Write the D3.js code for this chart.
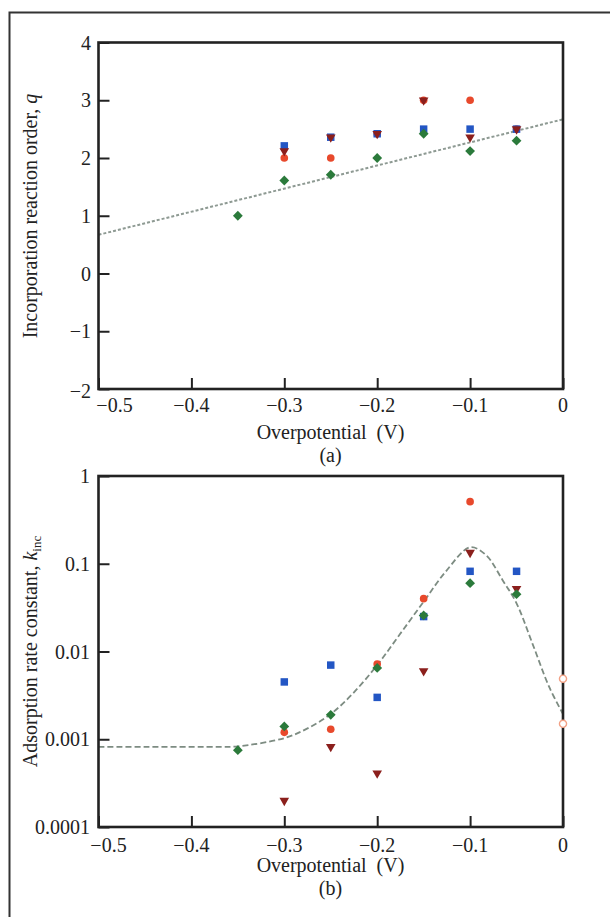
<!DOCTYPE html>
<html>
<head>
<meta charset="utf-8">
<script src="https://cdn.jsdelivr.net/npm/d3@7"></script>
<style>
  html, body { margin: 0; padding: 0; background: #fff; }
  svg { display: block; }
  text { font-family: "Liberation Serif", "DejaVu Serif", serif; fill: #222; }
</style>
</head>
<body>
<svg id="chart" width="610" height="917"></svg>
<script>
// overpotential values where points were measured (V)
const potentials = [-0.35, -0.3, -0.25, -0.2, -0.15, -0.1, -0.05];

// panel (a): incorporation reaction order q
const qRed   = [null, 2.0, 2.0, 2.42, 3.0, 3.0, 2.5];
const qBlue  = [null, 2.21, 2.36, 2.42, 2.5, 2.5, 2.5];
const qBrown = [null, 2.12, 2.36, 2.42, 3.0, 2.36, 2.5];
const qGreen = [1.0, 1.61, 1.71, 2.0, 2.42, 2.12, 2.3];
const qFitX  = [-0.5, 0];
const qFitY  = [0.67, 2.67];

// panel (b): adsorption rate constant k_inc
const kRed   = [null, 0.0012, 0.0013, 0.0072, 0.040, 0.51, null];
const kBlue  = [null, 0.0045, 0.0070, 0.0030, 0.025, 0.082, 0.082];
const kBrown = [null, 0.0002, 0.00082, 0.00041, 0.006, 0.134, 0.052];
const kGreen = [0.00075, 0.0014, 0.0019, 0.0065, 0.0258, 0.060, 0.045];
const kOpenX = [0, 0];
const kOpenY = [0.0049, 0.0015];
const kFitX  = [-0.5, -0.45, -0.4, -0.369, -0.35, -0.3, -0.275, -0.25, -0.226, -0.2, -0.176, -0.15, -0.126, -0.1, -0.083, -0.065, -0.05, -0.033, -0.015, 0];
const kFitY  = [0.00082, 0.00082, 0.00082, 0.00082, 0.00083, 0.00103, 0.00133, 0.00194, 0.00334, 0.0070, 0.0155, 0.037, 0.082, 0.154, 0.126, 0.065, 0.0354, 0.0124, 0.00397, 0.00194];

// axis ticks
const xMajor = [-0.5, -0.4, -0.3, -0.2, -0.1, 0];
const qTicks = [-2, -1, 0, 1, 2, 3, 4];
const kTicks = [0.0001, 0.001, 0.01, 0.1, 1];
const kTickLabels = ["0.0001", "0.001", "0.01", "0.1", "1"];

const svg = d3.select("#chart");
const FS = "20px";

const colors = { red: "#e8492c", blue: "#2356c4", brown: "#8b1f1c", green: "#2b7a3b", open: "#f2a185" };

// outer frame (top and left)
svg.append("path")
    .attr("d", "M9.5,917 L9.5,12.5 L610,12.5")
    .attr("fill", "none")
    .attr("stroke", "#333")
    .attr("stroke-width", 2);

const x = d3.scaleLinear().domain([-0.5, 0]).range([98.5, 563]);
const yA = d3.scaleLinear().domain([-2, 4]).range([389, 42.5]);
const yB = d3.scaleLog().domain([1e-4, 1]).range([827, 476]);

const fmtX = v => v === 0 ? "0" : d3.format(".1f")(v);

function drawFrame(bottom, top) {
    svg.append("rect")
        .attr("x", x.range()[0]).attr("y", top)
        .attr("width", x.range()[1] - x.range()[0])
        .attr("height", bottom - top)
        .attr("fill", "none")
        .attr("stroke", "#222")
        .attr("stroke-width", 2.6);
}

function drawXAxis(bottom, labelY, minusShift) {
    const g = svg.append("g").attr("transform", `translate(0,${bottom})`);
    // minor ticks every 0.02
    g.call(d3.axisBottom(x).tickValues(d3.range(-0.48, 0, 0.02)).tickSize(-5.5).tickFormat(""));
    g.call(d3.axisBottom(x).tickValues(xMajor).tickSize(-11).tickFormat(""));
    g.select(".domain").remove();
    g.selectAll("line").attr("stroke", "#222").attr("stroke-width", 2);
    svg.append("g").selectAll("text")
        .data(xMajor)
        .join("text")
        .attr("x", d => x(d) + (d === -0.5 ? minusShift : 0))
        .attr("y", labelY)
        .attr("text-anchor", "middle")
        .style("font-size", FS)
        .text(fmtX);
}

function drawMarks(y, series) {
    series.forEach(s => {
        const pts = s.vals.map((v, i) => [s.xs ? s.xs[i] : potentials[i], v]).filter(p => p[1] != null);
        const sel = svg.append("g").selectAll("path")
            .data(pts)
            .join("path")
            .attr("transform", d => `translate(${x(d[0])},${y(d[1])}) rotate(${s.rot || 0})`)
            .attr("d", d3.symbol().type(s.type).size(s.size));
        if (s.open) {
            sel.attr("fill", "#fff").attr("stroke", s.color).attr("stroke-width", 1.4);
        } else {
            sel.attr("fill", s.color);
        }
    });
}

const markSet = (r, b, br, gr) => [
    { vals: r, type: d3.symbolCircle, size: 46, color: colors.red },
    { vals: b, type: d3.symbolSquare, size: 56, color: colors.blue },
    { vals: br, type: d3.symbolTriangle, size: 40, color: colors.brown, rot: 180 },
    { vals: gr, type: d3.symbolSquare, size: 48, color: colors.green, rot: 45 }
];

// ---------- panel (a) ----------
{
    const g = svg.append("g").attr("transform", "translate(98.5,0)");
    g.call(d3.axisLeft(yA).tickValues(d3.range(-2, 4.01, 0.2)).tickSize(-6).tickFormat(""));
    g.call(d3.axisLeft(yA).tickValues(qTicks).tickSize(-11).tickFormat(""));
    g.select(".domain").remove();
    g.selectAll("line").attr("stroke", "#222").attr("stroke-width", 2);
    svg.append("g").selectAll("text")
        .data(qTicks)
        .join("text")
        .attr("x", 91)
        .attr("y", d => yA(d) + (d === -2 ? 9 : 7))
        .attr("text-anchor", "end")
        .style("font-size", FS)
        .text(d3.format("d"));

    drawXAxis(389, 412, 16);

    const fit = qFitX.map((v, i) => [v, qFitY[i]]);
    svg.append("path")
        .datum(fit)
        .attr("d", d3.line().x(d => x(d[0])).y(d => yA(d[1])))
        .attr("fill", "none")
        .attr("stroke", "#8e9a93")
        .attr("stroke-width", 2)
        .attr("stroke-dasharray", "3,2");

    drawMarks(yA, markSet(qRed, qBlue, qBrown, qGreen));
    drawFrame(389, 42.5);

    svg.append("text")
        .attr("transform", "translate(37,216) rotate(-90)")
        .attr("text-anchor", "middle")
        .style("font-size", FS)
        .text("Incorporation reaction order, ")
        .append("tspan").style("font-style", "italic").text("q");

    svg.append("text").attr("x", 330.5).attr("y", 439).attr("text-anchor", "middle")
        .style("font-size", FS).style("white-space", "pre").text("Overpotential  (V)");
    svg.append("text").attr("x", 330.5).attr("y", 462).attr("text-anchor", "middle")
        .style("font-size", FS).text("(a)");
}

// ---------- panel (b) ----------
{
    const minor = [];
    for (let e = -4; e < 0; e++) for (let m = 2; m <= 9; m++) minor.push(m * Math.pow(10, e));
    const g = svg.append("g").attr("transform", "translate(98.5,0)");
    g.call(d3.axisLeft(yB).tickValues(minor).tickSize(-6).tickFormat(""));
    g.call(d3.axisLeft(yB).tickValues(kTicks).tickSize(-11).tickFormat(""));
    g.select(".domain").remove();
    g.selectAll("line").attr("stroke", "#222").attr("stroke-width", 2);
    svg.append("g").selectAll("text")
        .data(kTicks)
        .join("text")
        .attr("x", 90)
        .attr("y", d => yB(d) + 7)
        .attr("text-anchor", "end")
        .style("font-size", FS)
        .text((d, i) => kTickLabels[i]);

    drawXAxis(827, 852, 10);

    const fit = kFitX.map((v, i) => [v, kFitY[i]]);
    svg.append("path")
        .datum(fit)
        .attr("d", d3.line().x(d => x(d[0])).y(d => yB(d[1])).curve(d3.curveCatmullRom.alpha(0.5)))
        .attr("fill", "none")
        .attr("stroke", "#7d8c82")
        .attr("stroke-width", 1.8)
        .attr("stroke-dasharray", "6,3");

    drawMarks(yB, markSet(kRed, kBlue, kBrown, kGreen));
    drawFrame(827, 476);
    drawMarks(yB, [
        { vals: kOpenY, xs: kOpenX, type: d3.symbolCircle, size: 40, color: colors.open, open: true }
    ]);

    const t = svg.append("text")
        .attr("transform", "translate(37,651.5) rotate(-90)")
        .attr("text-anchor", "middle")
        .style("font-size", FS);
    t.append("tspan").text("Adsorption rate constant, ");
    t.append("tspan").style("font-style", "italic").text("k");
    t.append("tspan").attr("dy", 4).style("font-size", "13px").text("inc");

    svg.append("text").attr("x", 330.5).attr("y", 872).attr("text-anchor", "middle")
        .style("font-size", FS).style("white-space", "pre").text("Overpotential  (V)");
    svg.append("text").attr("x", 330.5).attr("y", 895).attr("text-anchor", "middle")
        .style("font-size", FS).text("(b)");
}
</script>
</body>
</html>
